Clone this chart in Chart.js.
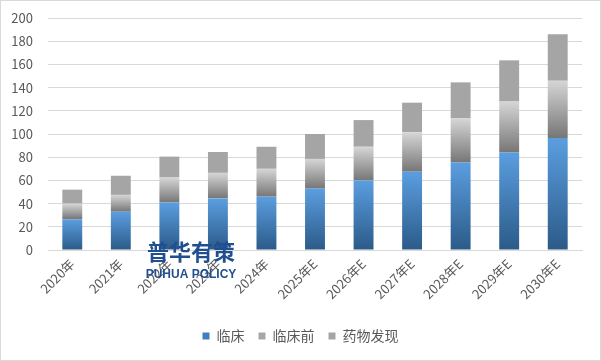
<!DOCTYPE html>
<html><head><meta charset="utf-8">
<script src="https://cdn.jsdelivr.net/npm/chart.js@4"></script>
<style>html,body{margin:0;padding:0;background:#fff}#wrap{width:601px;height:361px;position:relative}</style>
</head><body><div id="wrap"><canvas id="c" width="601" height="361"></canvas></div>
<script>
const categories = ['2020年','2021年','2022年','2023年','2024年','2025年E','2026年E','2027年E','2028年E','2029年E','2030年E'];
const clinical = [26.5,33,41,44.5,46,53,60,67.5,75.5,84,96.5];
const preclinical = [13.5,14.5,21.5,22,24,25.5,29,34,38,44,49.5];
const discovery = [12,16.5,18,18,19,21.5,23,25.5,31,35.5,40];
const seriesNames = ['临床','临床前','药物发现'];
const yTicks = {min:0,max:200,step:20};

const FONT = "'Noto Sans CJK SC','Liberation Sans',sans-serif";

function gradFill(lowArr, highArr, topColor, botColor, fallback){
  return function(ctx){
    const chart = ctx.chart;
    if(!chart.chartArea || ctx.type !== 'data') return fallback;
    const i = ctx.dataIndex;
    const y = chart.scales.y;
    const lo = lowArr ? lowArr[i] : 0;
    const hi = highArr[i];
    const yb = y.getPixelForValue(lo), yt = y.getPixelForValue(hi);
    if(!isFinite(yb)||!isFinite(yt)||yb===yt) return fallback;
    const g = chart.ctx.createLinearGradient(0,yt,0,yb);
    g.addColorStop(0, topColor);
    g.addColorStop(1, botColor);
    return g;
  };
}
const cum1 = clinical.slice();
const cum2 = clinical.map((v,i)=>v+preclinical[i]);

const framePlugin = {
  id:'frame',
  afterDraw(chart){
    const c = chart.ctx;
    c.save();
    c.strokeStyle = '#d9d9d9';
    c.lineWidth = 1;
    c.strokeRect(0.5,0.5,chart.width-1,chart.height-1);
    // watermark
    c.fillStyle = '#1f4f8f';
    c.textAlign = 'center';
    c.textBaseline = 'alphabetic';
    c.font = "bold 22px 'Noto Sans CJK SC',sans-serif";
    c.fillText('普华有策', 191, 260);
    c.font = "bold 12px 'Liberation Sans','DejaVu Sans',sans-serif";
    c.fillText('PUHUA POLICY', 191, 278);
    c.restore();
  }
};

new Chart(document.getElementById('c'), {
  type:'bar',
  data:{
    labels:categories,
    datasets:[
      {label:seriesNames[0], data:clinical, backgroundColor:gradFill(null,cum1,'#5b9ee0','#2b5a88','#3f7fc0'), borderWidth:0},
      {label:seriesNames[1], data:preclinical, backgroundColor:gradFill(cum1,cum2,'#d6d6d6','#767676','#a8a8a8'), borderWidth:0},
      {label:seriesNames[2], data:discovery, backgroundColor:'#a5a5a5', borderWidth:0}
    ]
  },
  options:{
    responsive:false,
    animation:false,
    devicePixelRatio:1,
    layout:{padding:{top:18,right:0,bottom:8,left:0}},
    datasets:{bar:{categoryPercentage:1,barPercentage:0.41}},
    scales:{
      x:{
        stacked:true,
        grid:{display:false,drawTicks:false},
        border:{display:true,color:'#d9d9d9',width:1},
        ticks:{color:'#595959',font:{family:FONT,size:13},maxRotation:45,minRotation:45,padding:6,autoSkip:false},
        afterFit(s){ s.height = 65; s.paddingTop = 0; s.paddingBottom = 0; s.paddingLeft = 0; s.paddingRight = 0; }
      },
      y:{
        stacked:true,
        min:yTicks.min,max:yTicks.max,
        grid:{color:'#d9d9d9',lineWidth:1,drawTicks:false},
        border:{display:false},
        ticks:{stepSize:yTicks.step,color:'#595959',font:{family:FONT,size:13},padding:15},
        afterFit(s){ s.width = 48; s.paddingTop = 0; s.paddingBottom = 0; }
      },
      yr:{
        position:'right',
        display:true,
        grid:{display:false,drawTicks:false},
        border:{display:false},
        ticks:{display:false},
        afterFit(s){ s.width = 19; s.paddingTop = 0; s.paddingBottom = 0; }
      }
    },
    plugins:{
      legend:{
        position:'bottom',
        labels:{
          color:'#595959',
          font:{family:FONT,size:14},
          boxWidth:7,boxHeight:7,padding:14,
          generateLabels(chart){
            const cols=['#3f80c4','#a8a8a8','#a5a5a5'];
            return seriesNames.map((n,i)=>({text:n,fillStyle:cols[i],strokeStyle:cols[i],lineWidth:0,datasetIndex:i,hidden:false,fontColor:'#595959'}));
          }
        }
      },
      tooltip:{enabled:false}
    }
  },
  plugins:[framePlugin]
});
</script>
</body></html>
